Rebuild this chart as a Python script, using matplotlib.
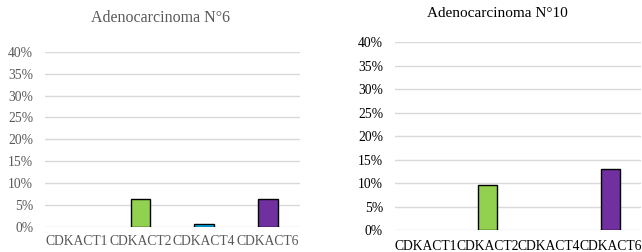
import numpy as np
import matplotlib.pyplot as plt
from matplotlib.ticker import PercentFormatter

categories = ['CDKACT1', 'CDKACT2', 'CDKACT4', 'CDKACT6']
n6_vals = [0.0, 0.064, 0.0075, 0.064]
n10_vals = [0.0, 0.096, 0.0, 0.130]
bar_colors = ['#5B9BD5', '#92D050', '#00B0F0', '#7030A0']
yticks = [0, 0.05, 0.10, 0.15, 0.20, 0.25, 0.30, 0.35, 0.40]

plt.rcParams['font.family'] = ['Liberation Serif', 'DejaVu Serif']

fig = plt.figure(figsize=(6.42, 2.52), dpi=100)

# gauche : N°6 (texte gris), droite : N°10 (texte noir)
ax1 = fig.add_axes([0.070, 0.099, 0.397, 0.696])
ax2 = fig.add_axes([0.615, 0.087, 0.384, 0.745])

def draw(ax, vals, txt_color, xpad):
    x = np.arange(len(categories))
    # pas de contour pour les barres nulles
    edges = ['black' if v > 0 else 'none' for v in vals]
    ax.bar(x, vals, width=0.31, color=bar_colors, edgecolor=edges,
           linewidth=1.0, zorder=3)
    ax.set_xlim(-0.5, len(categories) - 0.5)
    ax.set_ylim(0, 0.40)
    ax.set_yticks(yticks)
    ax.yaxis.set_major_formatter(PercentFormatter(1.0, decimals=0))
    ax.set_xticks(x)
    ax.set_xticklabels(categories)
    ax.grid(axis='y', color='#D9D9D9', linewidth=1.0, zorder=0)
    for s in ax.spines.values():
        s.set_visible(False)
    ax.tick_params(axis='both', length=0, labelsize=9.8, labelcolor=txt_color)
    ax.tick_params(axis='y', pad=8.5)
    ax.tick_params(axis='x', pad=xpad)

draw(ax1, n6_vals, '#595959', 6)
draw(ax2, n10_vals, 'black', 7.5)

fig.text(0.25, 0.929, 'Adenocarcinoma N°6', ha='center', va='center',
         fontsize=11.5, color='#595959')
fig.text(0.774, 0.946, 'Adenocarcinoma N°10', ha='center', va='center',
         fontsize=11, color='black')

fig.savefig('out.png', dpi=100)
